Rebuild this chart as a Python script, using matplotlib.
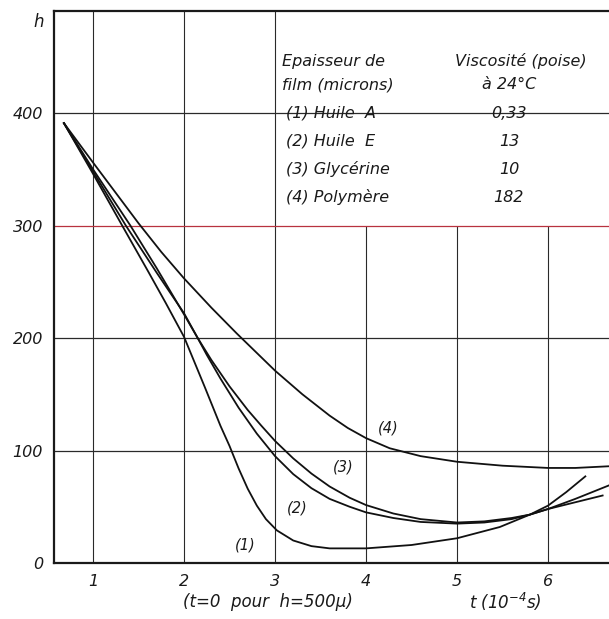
import numpy as np
import matplotlib
matplotlib.use("Agg")
import matplotlib.pyplot as plt
from matplotlib.patches import Rectangle

# Epaisseur de film h (microns) en fonction du temps t (10^-4 s)
t_huile_a = [0.68, 1.0, 1.32, 1.6, 1.8, 2.0, 2.23, 2.4, 2.5, 2.6, 2.7, 2.8, 2.9, 3.02,
             3.2, 3.4, 3.6, 4.0, 4.5, 5.0, 5.47, 5.8, 6.0, 6.2, 6.41]
h_huile_a = [391, 346, 300, 260, 231, 201, 156, 122, 104, 84, 66, 51, 39, 29,
             20, 15, 13, 13, 16, 22, 32, 43, 51, 63, 77]

t_huile_e = [0.68, 1.0, 1.36, 1.7, 2.0, 2.15, 2.25, 2.4, 2.6, 2.8, 3.0, 3.2, 3.4, 3.6,
             3.82, 4.0, 4.3, 4.6, 5.0, 5.3, 5.6, 5.8, 6.0, 6.3, 6.6]
h_huile_e = [391, 348, 300, 258, 222, 200, 185, 164, 138, 115, 95, 79, 66.5, 57,
             50, 45, 40, 36.5, 35, 36, 39, 43, 48, 54, 60]

t_glycerine = [0.68, 1.0, 1.41, 1.7, 2.0, 2.15, 2.3, 2.5, 2.7, 2.85, 3.0, 3.2, 3.4, 3.6,
               3.82, 4.0, 4.3, 4.6, 5.0, 5.3, 5.6, 5.8, 6.0, 6.3, 6.67]
h_glycerine = [391, 350, 300, 262, 221, 200, 180.5, 157, 136, 122, 108.5, 93, 79.5, 68,
               58, 51.5, 44, 39, 36, 37, 40, 43, 48, 57, 69]

t_polymere = [0.68, 1.0, 1.25, 1.5, 1.75, 2.0, 2.3, 2.58, 2.86, 3.0, 3.3, 3.6, 3.8, 4.0,
              4.26, 4.6, 5.0, 5.5, 6.0, 6.3, 6.67]
h_polymere = [391, 356, 329, 302, 276.5, 253, 227, 204, 182, 171, 150, 131, 120, 111,
              102, 95, 90, 86.5, 84.5, 84.5, 86]

xticks = [1, 2, 3, 4, 5, 6]
yticks = [0, 100, 200, 300, 400]

liquides = ["(1) Huile  A", "(2) Huile  E", "(3) Glycérine", "(4) Polymère"]
viscosites = ["0,33", "13", "10", "182"]

fig = plt.figure(figsize=(6.09, 6.19), dpi=100)
ax = fig.add_axes([54 / 609, 56 / 619, 555 / 609, 552 / 619])
ax.set_xlim(0.571, 6.67)
ax.set_ylim(0, 490.7)

font = dict(family="DejaVu Sans", style="italic", color="#1a1a1a")

# grille
for x in xticks:
    ax.axvline(x, color="#2a2a2a", lw=0.8, zorder=2 if x == 3 else 1)
for y in yticks[1:]:
    c = "#b8323f" if y == 300 else "#2a2a2a"
    ax.axhline(y, color=c, lw=0.9, zorder=2)

# cadre de la légende
ax.add_patch(Rectangle((3, 300), 5, 300, facecolor="white", edgecolor="none", zorder=1.5))

for t, h in [(t_huile_a, h_huile_a), (t_huile_e, h_huile_e),
             (t_glycerine, h_glycerine), (t_polymere, h_polymere)]:
    ax.plot(t, h, color="#111111", lw=1.3, zorder=3, solid_joinstyle="round")

# étiquettes des courbes
ax.text(2.67, 16, "(1)", fontsize=10.5, ha="center", va="center", **font)
ax.text(3.24, 49, "(2)", fontsize=10.5, ha="center", va="center", **font)
ax.text(3.75, 85, "(3)", fontsize=10.5, ha="center", va="center", **font)
ax.text(4.24, 120, "(4)", fontsize=10.5, ha="center", va="center", **font)

# légende
fs = 11.5
ax.text(3.08, 446, "Epaisseur de", fontsize=fs, va="center", zorder=4, **font)
ax.text(3.08, 425, "film (microns)", fontsize=fs, va="center", zorder=4, **font)
ax.text(5.70, 446, "Viscosité (poise)", fontsize=fs, ha="center", va="center", zorder=4, **font)
ax.text(5.57, 425, "à 24°C", fontsize=fs, ha="center", va="center", zorder=4, **font)
for i, (nom, v) in enumerate(zip(liquides, viscosites)):
    y = 400 - 25 * i
    ax.text(3.12, y, nom, fontsize=fs, va="center", zorder=4, **font)
    ax.text(5.57, y, v, fontsize=fs, ha="center", va="center", zorder=4, **font)

ax.set_xticks(xticks)
ax.set_yticks(yticks)
ax.set_xticklabels([str(x) for x in xticks], fontsize=11.5, **font)
ax.set_yticklabels([str(y) for y in yticks], fontsize=11.5, **font)
ax.tick_params(length=0)
ax.tick_params(axis="x", pad=8)
ax.tick_params(axis="y", pad=8)

for s in ["left", "bottom", "top"]:
    ax.spines[s].set_linewidth(1.6)
    ax.spines[s].set_color("#1a1a1a")
ax.spines["right"].set_visible(False)

ax.text(0.40, 481, "h", fontsize=12, ha="center", va="center", clip_on=False, **font)
ax.text(2.92, -35, "(t=0  pour  h=500µ)", fontsize=12, ha="center", va="center", clip_on=False, **font)
ax.text(5.53, -35, r"t (10$^{\mathdefault{-4}}$s)", fontsize=12, ha="center", va="center", clip_on=False, **font)

fig.savefig("out.png", dpi=100)
